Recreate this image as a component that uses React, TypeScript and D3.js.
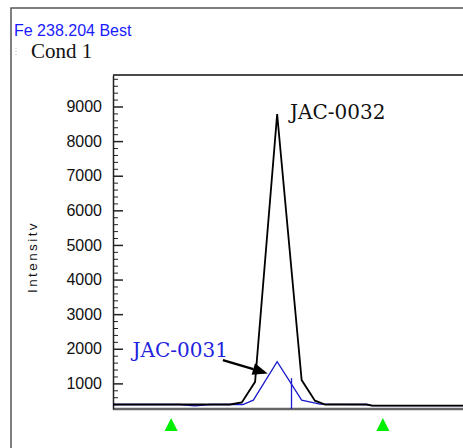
import React, { useEffect, useRef } from 'react'
import * as d3 from 'd3'

// scan position across the window (arbitrary units) and intensity
const jac0032Pos = [0, 33.4, 36.8, 40.6, 46.9, 53.9, 57.7, 60.6, 72.5, 74, 100]
const jac0032Int = [390, 390, 450, 1045, 8780, 1095, 500, 390, 390, 355, 355]

const jac0031Pos = [0, 19.1, 23.4, 27.7, 37.1, 40.1, 46.9, 53.9, 59.1, 72.5, 74, 100]
const jac0031Int = [390, 390, 350, 390, 390, 515, 1625, 515, 400, 390, 355, 355]

const peakMark = { pos: 51, top: 1150 }
const backgroundPoints = [16.6, 77.1]
const yTickValues = [1000, 2000, 3000, 4000, 5000, 6000, 7000, 8000, 9000]

const width = 463
const height = 448

function App() {
    const svgRef = useRef(null)

    useEffect(() => {
        document.body.style.margin = '0'
        const svg = d3.select(svgRef.current)
        svg.selectAll('*').remove()

        const left = 113, right = 463, top = 75, bottom = 409

        const x = d3.scaleLinear().domain([0, 100]).range([left, right])
        const y = d3.scaleLinear().domain([260, 9910]).range([bottom, top])

        // outer frame
        svg.append('path')
            .attr('d', `M11,${height} V8 H${width}`)
            .attr('fill', 'none')
            .attr('stroke', '#555')
            .attr('stroke-width', 1.5)

        svg.append('line')
            .attr('x1', 16).attr('x2', 16).attr('y1', 48).attr('y2', 57)
            .attr('stroke', '#bbb')
            .attr('stroke-dasharray', '1,2')

        svg.append('text')
            .attr('x', 14).attr('y', 36)
            .attr('fill', '#1a1aff')
            .attr('font-family', 'Liberation Sans, Arial')
            .attr('font-size', 16)
            .text('Fe 238.204 Best')

        svg.append('text')
            .attr('x', 31).attr('y', 58)
            .attr('fill', '#111')
            .attr('font-family', 'Liberation Serif')
            .attr('font-size', 21)
            .text('Cond 1')

        // plot frame: top and bottom
        svg.append('line')
            .attr('x1', left).attr('x2', right).attr('y1', top).attr('y2', top)
            .attr('stroke', '#111').attr('stroke-width', 1.5)
        svg.append('line')
            .attr('x1', left).attr('x2', right).attr('y1', bottom).attr('y2', bottom)
            .attr('stroke', '#666').attr('stroke-width', 2.5)

        // y axis, major + minor ticks drawn inward
        const minor = d3.range(400, 9900, 200).filter(v => v % 1000 !== 0)
        svg.append('g')
            .attr('transform', `translate(${left},0)`)
            .call(d3.axisLeft(y).tickValues(minor).tickSize(-5).tickSizeOuter(0).tickFormat(() => ''))
            .call(g => g.select('.domain').remove())
            .selectAll('line').attr('stroke', '#222')

        const yAxis = svg.append('g')
            .attr('transform', `translate(${left},0)`)
            .call(d3.axisLeft(y).tickValues(yTickValues).tickSize(-10).tickSizeOuter(0).tickPadding(11).tickFormat(d3.format('d')))
            .attr('font-family', 'Liberation Sans, Arial')
            .attr('font-size', 16)
        yAxis.select('.domain').attr('stroke', '#222').attr('stroke-width', 1.5)
        yAxis.selectAll('line').attr('stroke', '#222').attr('stroke-width', 1.5)
        yAxis.selectAll('text').attr('fill', '#111')

        svg.append('text')
            .attr('transform', `translate(37,257) rotate(-90)`)
            .attr('text-anchor', 'middle')
            .attr('fill', '#111')
            .attr('font-family', 'Liberation Sans, Arial')
            .attr('font-size', 13.5)
            .attr('letter-spacing', 2.4)
            .text('Intensitv')

        const line = d3.line<[number, number]>()
            .x(d => x(d[0]))
            .y(d => y(d[1]))

        const blue = jac0031Pos.map((p, i) => [p, jac0031Int[i]] as [number, number])
        const black = jac0032Pos.map((p, i) => [p, jac0032Int[i]] as [number, number])

        svg.append('line')
            .attr('x1', x(peakMark.pos)).attr('x2', x(peakMark.pos))
            .attr('y1', y(peakMark.top)).attr('y2', bottom)
            .attr('stroke', '#1a1acc').attr('stroke-width', 1.3)

        svg.append('path')
            .datum(blue)
            .attr('d', line)
            .attr('fill', 'none')
            .attr('stroke', '#1a1acc')
            .attr('stroke-width', 1.3)

        svg.append('path')
            .datum(black)
            .attr('d', line)
            .attr('fill', 'none')
            .attr('stroke', '#000')
            .attr('stroke-width', 1.8)

        // background correction markers
        svg.selectAll('.bg')
            .data(backgroundPoints)
            .enter().append('path')
            .attr('class', 'bg')
            .attr('d', d => `M${x(d) - 6.5},431 L${x(d)},418 L${x(d) + 6.5},431 Z`)
            .attr('fill', '#00ee00')

        // labels
        svg.append('text')
            .attr('x', x(50.6)).attr('y', y(8640))
            .attr('fill', '#111')
            .attr('font-family', 'DejaVu Serif')
            .attr('font-size', 20)
            .text('JAC-0032')

        svg.append('text')
            .attr('x', x(5.6)).attr('y', y(1760))
            .attr('fill', '#2222dd')
            .attr('font-family', 'DejaVu Serif')
            .attr('font-size', 20)
            .text('JAC-0031')

        // arrow from label to peak
        const tail = [x(31.4), y(1673)]
        const tip = [x(44.2), y(1289)]
        const ang = Math.atan2(tip[1] - tail[1], tip[0] - tail[0])
        const hl = 15, hw = 6
        const base = [tip[0] - hl * Math.cos(ang), tip[1] - hl * Math.sin(ang)]
        svg.append('line')
            .attr('x1', tail[0]).attr('y1', tail[1])
            .attr('x2', base[0]).attr('y2', base[1])
            .attr('stroke', '#000').attr('stroke-width', 2.5)
        svg.append('path')
            .attr('d', `M${tip[0]},${tip[1]} L${base[0] - hw * Math.sin(ang)},${base[1] + hw * Math.cos(ang)} L${base[0] + hw * Math.sin(ang)},${base[1] - hw * Math.cos(ang)} Z`)
            .attr('fill', '#000')
    }, [])

    return (
        <svg ref={svgRef} width={width} height={height} style={{ display: 'block', background: '#fff' }} />
    )
}

export default App
